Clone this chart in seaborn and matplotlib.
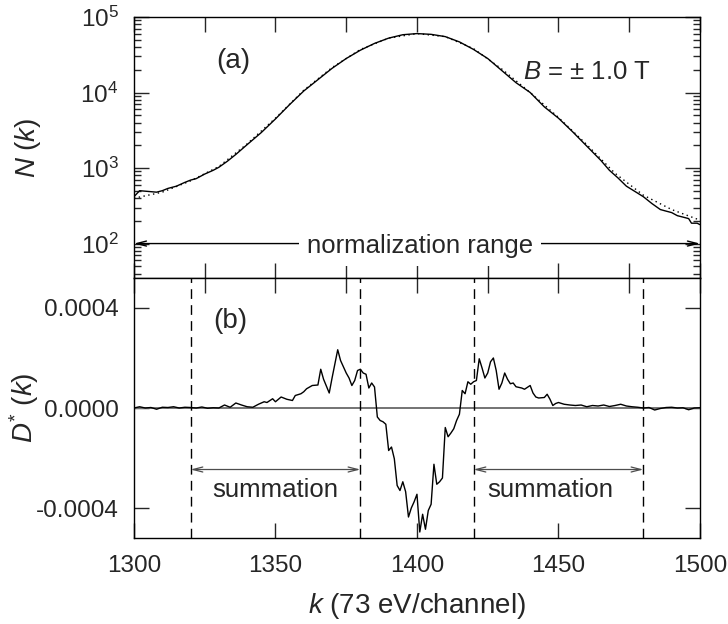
import numpy as np
import pandas as pd
import matplotlib
matplotlib.use("Agg")
import matplotlib.pyplot as plt
import matplotlib.ticker as mticker
import seaborn as sns

# ---- data ----
# (a) measured spectrum N(k), solid line
k_meas = [1300, 1302, 1305, 1308, 1310, 1312, 1315, 1318, 1320, 1322, 1325, 1328,
          1330, 1333, 1336, 1340, 1345, 1350, 1355, 1360, 1365, 1370, 1375, 1380,
          1385, 1390, 1395, 1400, 1405, 1410, 1415, 1420, 1425, 1430, 1435, 1440,
          1445, 1450, 1455, 1460, 1465, 1468, 1471, 1474, 1477, 1480, 1483, 1486,
          1488, 1490, 1492, 1494, 1496, 1497, 1499, 1500]
n_meas = [417, 501, 490, 479, 501, 537, 575, 646, 692, 724, 832, 933,
          1023, 1230, 1514, 2042, 2951, 4467, 6918, 10470, 14790, 20890, 28180, 36310,
          44670, 52480, 58210, 60260, 58880, 54950, 46770, 37150, 28180, 19500, 13490, 10000,
          6457, 4571, 3020, 1950, 1259, 933, 741, 575, 490, 417, 339, 282,
          269, 257, 234, 224, 214, 186, 186, 178]

# (a) fitted spectrum, dotted line
k_fit = [1300, 1310, 1320, 1330, 1340, 1350, 1360, 1370, 1380, 1390, 1400,
         1410, 1420, 1430, 1440, 1450, 1460, 1470, 1480, 1490, 1500]
n_fit = [398, 479, 676, 1047, 2089, 4571, 10720, 21380, 37150, 52480, 60260,
         54950, 38020, 20420, 10000, 4677, 2042, 851, 437, 282, 204]

# (b) asymmetry D*(k), in units of 1e-4
k_asym = [1300, 1302, 1304, 1306, 1308, 1310, 1312, 1314, 1316, 1318, 1320, 1322,
          1324, 1326, 1328, 1330, 1332, 1334, 1336, 1338, 1340, 1342, 1344, 1346,
          1347, 1349, 1350, 1352, 1354, 1356, 1357, 1359, 1360, 1361, 1363, 1365,
          1366, 1367, 1369, 1370, 1372, 1373, 1375, 1376, 1377, 1378, 1379, 1380,
          1381, 1382, 1383, 1384, 1385, 1386, 1387, 1388, 1389, 1390, 1391, 1392,
          1393, 1394, 1395, 1396, 1397, 1398, 1399, 1400, 1401, 1402, 1403, 1404,
          1405, 1406, 1407, 1408, 1409, 1410, 1411, 1412, 1413, 1414, 1415, 1416,
          1417, 1418, 1419, 1420, 1421, 1422, 1423, 1424, 1425, 1426, 1427, 1428,
          1429, 1430, 1431, 1432, 1433, 1434, 1435, 1437, 1438, 1440, 1441, 1442,
          1443, 1445, 1446, 1447, 1448, 1449, 1450, 1452, 1454, 1456, 1458, 1460,
          1462, 1464, 1466, 1468, 1470, 1472, 1474, 1476, 1478, 1480, 1482, 1484,
          1486, 1488, 1490, 1492, 1494, 1496, 1498, 1500]
d_asym = [0.00, 0.05, 0.00, 0.02, -0.05, 0.03, 0.02, 0.05, 0.00, 0.03, 0.02, 0.00,
          0.04, -0.01, 0.01, 0.00, 0.12, 0.03, 0.20, 0.12, 0.05, 0.03, 0.15, 0.25,
          0.22, 0.37, 0.25, 0.44, 0.35, 0.30, 0.50, 0.57, 0.65, 0.77, 0.90, 0.92,
          1.55, 1.15, 0.60, 1.20, 2.33, 1.90, 1.40, 1.20, 0.90, 1.10, 1.50, 1.55,
          1.40, 1.35, 0.80, 1.00, 0.84, -0.36, -0.50, -0.55, -0.65, -1.70, -1.56, -2.03,
          -3.10, -3.30, -2.95, -3.35, -4.36, -4.00, -3.75, -3.45, -4.96, -4.25, -4.85, -4.10,
          -3.85, -2.25, -3.05, -2.95, -2.80, -0.78, -1.15, -1.00, -0.83, -0.50, -0.25, 0.70,
          0.57, 1.05, 0.95, 1.05, 1.10, 1.97, 1.60, 1.20, 1.40, 1.85, 2.00, 1.50,
          0.75, 1.00, 1.40, 1.15, 0.97, 1.00, 0.85, 0.80, 0.75, 0.90, 0.60, 0.44,
          0.40, 0.42, 0.55, 0.35, 0.10, 0.18, 0.22, 0.15, 0.12, 0.10, 0.12, 0.05,
          0.10, 0.08, 0.12, 0.06, 0.10, 0.15, 0.08, 0.05, 0.03, 0.00, 0.02, -0.08,
          -0.02, 0.02, 0.03, 0.00, 0.01, -0.07, 0.00, 0.01]

sum_edges = [1320, 1380, 1420, 1480]
y_ticks_b = [-0.0004, 0.0, 0.0004]
y_ticklabels_b = ["-0.0004", "0.0000", "0.0004"]

# ---- style ----
sns.set_style("ticks")
plt.rcParams["font.family"] = ["Liberation Sans", "DejaVu Sans"]
plt.rcParams["mathtext.fontset"] = "custom"
plt.rcParams["mathtext.rm"] = "Liberation Sans"
plt.rcParams["mathtext.it"] = "Liberation Sans:italic"
plt.rcParams["axes.linewidth"] = 1.0
plt.rcParams["axes.edgecolor"] = "black"

fs = 17.5     # tick labels
fs_txt = 18.5 # annotations
fs_lab = 20   # axis labels
fig = plt.figure(figsize=(7.28, 6.24), dpi=100)
ax1 = fig.add_axes([0.184, 0.5545, 0.7775, 0.4183])
ax2 = fig.add_axes([0.184, 0.1378, 0.7775, 0.4167])

meas = pd.DataFrame({"k": k_meas, "N": n_meas})
fit = pd.DataFrame({"k": k_fit, "N": n_fit})
asym = pd.DataFrame({"k": k_asym, "D": np.array(d_asym) * 1e-4})

# ---- panel (a) ----
sns.lineplot(data=fit, x="k", y="N", ax=ax1, color="black", lw=1.0,
             linestyle=(0, (1, 2.5)))
sns.lineplot(data=meas, x="k", y="N", ax=ax1, color="black", lw=1.0)
ax1.set_yscale("log")
ax1.set_xlim(1300, 1500)
ax1.set_ylim(35, 1e5)
ax1.set_xlabel("")
ax1.set_ylabel(r"$N\ (k)$", fontsize=fs_lab)
ax1.yaxis.set_label_coords(-0.16, 0.5)
ax1.xaxis.set_major_locator(mticker.MultipleLocator(25))
ax1.yaxis.set_major_locator(mticker.LogLocator(base=10, numticks=10))
ax1.yaxis.set_minor_locator(mticker.LogLocator(base=10, subs=np.arange(2, 10), numticks=20))
ax1.yaxis.set_minor_formatter(mticker.NullFormatter())
ax1.tick_params(which="major", direction="in", length=11, width=1, top=True, right=True,
                labelbottom=False, labelsize=fs, pad=11)
ax1.tick_params(which="minor", direction="in", length=5, width=1, right=True)

ax1.annotate("", xy=(1300, 100), xytext=(1500, 100),
             arrowprops=dict(arrowstyle="<->,head_length=0.7,head_width=0.18",
                             lw=1.0, color="black", shrinkA=0, shrinkB=0))
ax1.text(1401, 100, "normalization range", fontsize=fs_txt, ha="center",
         va="center_baseline", bbox=dict(facecolor="white", edgecolor="none", pad=6))
ax1.text(1335, 26300, "(a)", fontsize=20, ha="center", va="center")
ax1.text(1460, 18600, r"$B$ = ± 1.0 T", fontsize=fs_txt, ha="center", va="center")

# ---- panel (b) ----
ax2.axhline(0, color="0.45", lw=1.4, zorder=1)
for xe in sum_edges:
    ax2.axvline(xe, color="black", lw=1.0, linestyle=(0, (7, 4.5)), zorder=1)
sns.lineplot(data=asym, x="k", y="D", ax=ax2, color="black", lw=1.0)
ax2.set_xlim(1300, 1500)
ax2.set_ylim(-0.00052, 0.00052)
ax2.set_yticks(y_ticks_b)
ax2.set_yticklabels(y_ticklabels_b)
ax2.set_xlabel(r"$k$ (73 eV/channel)", fontsize=fs_lab, labelpad=10)
ax2.set_ylabel(r"$D^{*}\ (k)$", fontsize=fs_lab)
ax2.yaxis.set_label_coords(-0.165, 0.5)
ax2.xaxis.set_major_locator(mticker.MultipleLocator(50))
ax2.xaxis.set_minor_locator(mticker.FixedLocator([1325, 1375, 1425, 1475]))
ax2.tick_params(which="major", direction="in", length=11, width=1, top=True, right=True,
                labelsize=fs, pad=11)
ax2.tick_params(axis="x", which="major", pad=12)
ax2.tick_params(which="minor", direction="in", length=11, width=1, bottom=False, top=True)

for a, b, xt in [(1320, 1380, 1350), (1420, 1480, 1447)]:
    ax2.annotate("", xy=(a, -0.000246), xytext=(b, -0.000246),
                 arrowprops=dict(arrowstyle="<->,head_length=0.7,head_width=0.18",
                                 lw=0.9, color="0.3", shrinkA=0, shrinkB=0))
    ax2.text(xt, -0.000329, "summation", fontsize=fs_txt, ha="center", va="center")
ax2.text(1334, 0.000347, "(b)", fontsize=20, ha="center", va="center")

for ax in (ax1, ax2):
    for s in ax.spines.values():
        s.set_visible(True)

fig.savefig("out.png", dpi=100)
